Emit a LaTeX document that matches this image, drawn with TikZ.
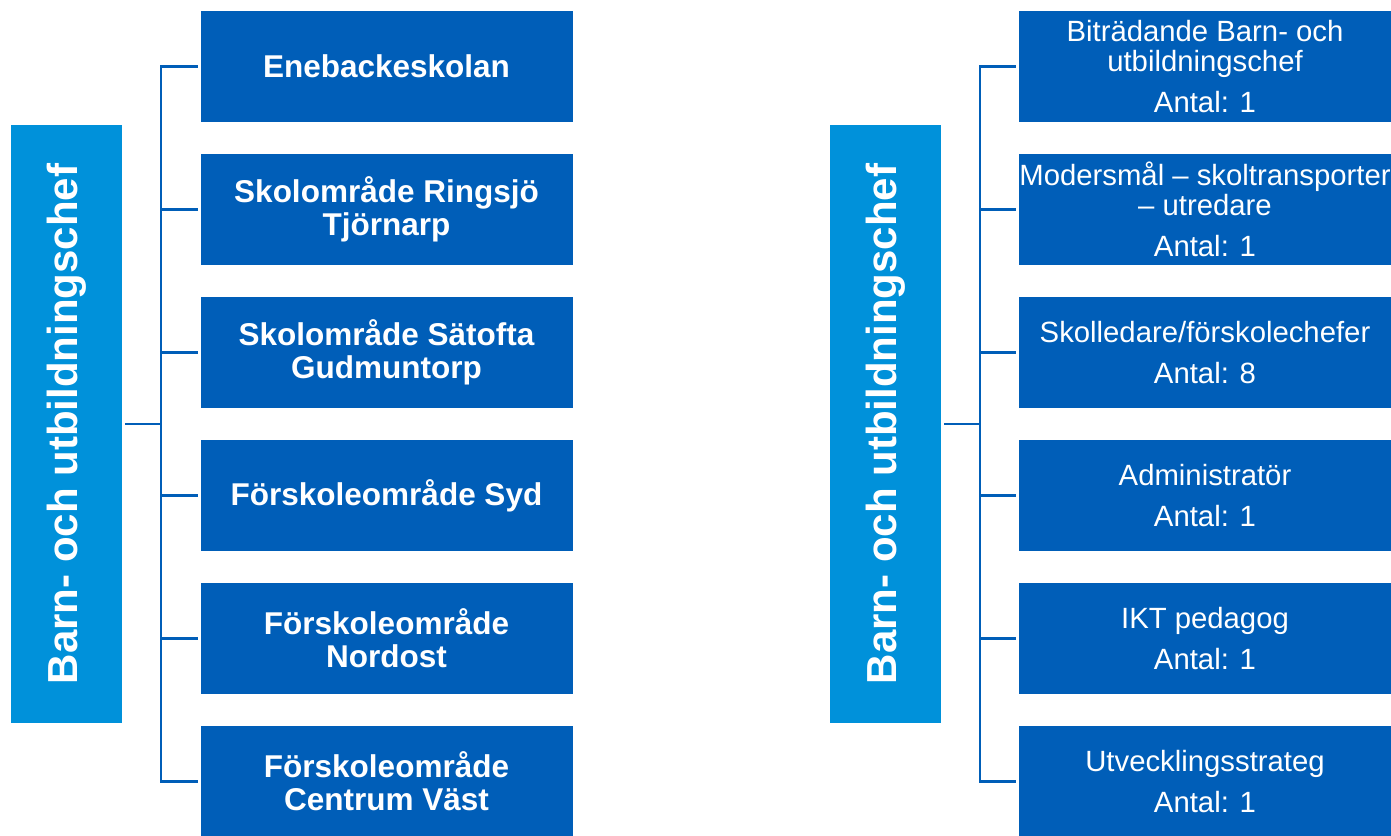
\documentclass[tikz,border=0pt]{standalone}
\usepackage{fontspec}
\setmainfont{Liberation Sans}
\usetikzlibrary{positioning}

\definecolor{unitblue}{RGB}{0,94,184}
\definecolor{chefblue}{RGB}{0,145,218}

\tikzset{
  chefbox/.style={rectangle, fill=chefblue, text=white, minimum width=111pt, minimum height=598pt, inner sep=0pt,
    font=\fontsize{42}{46}\selectfont\bfseries},
  unitbox/.style={rectangle, fill=unitblue, text=white, minimum width=372pt, minimum height=111pt, inner sep=0pt,
    align=center, font=\fontsize{31.5}{33}\selectfont\bfseries},
  rolebox/.style={rectangle, fill=unitblue, text=white, minimum width=372pt, minimum height=111pt, inner sep=0pt,
    align=center, font=\fontsize{29.3}{30}\selectfont},
  conn/.style={draw=unitblue, line width=2.5pt}
}

\begin{document}
\begin{tikzpicture}[x=1pt, y=-1pt]
\useasboundingbox (0,0) rectangle (1391,835);
% left chart
\node[chefbox] (chefL) at (66.5,424) {\rotatebox{90}{Barn- och utbildningschef}};
\node[unitbox] (u1) at (386.5,66.5) {Enebackeskolan};
\node[unitbox] (u2) at (386.5,209.5) {Skolområde Ringsjö\\Tjörnarp};
\node[unitbox] (u3) at (386.5,352.5) {Skolområde Sätofta\\Gudmuntorp};
\node[unitbox] (u4) at (386.5,495.5) {Förskoleområde Syd};
\node[unitbox] (u5) at (386.5,638.5) {Förskoleområde\\Nordost};
\node[unitbox] (u6) at (386.5,781.5) {Förskoleområde\\Centrum Väst};
\coordinate (busL) at (161,424);
\draw[conn, shorten <=3pt] (chefL.east) -- (busL);
\draw[conn, line cap=rect] (busL |- u1.west) -- (busL |- u6.west);
\foreach \u in {u1,u2,u3,u4,u5,u6}
  \draw[conn, shorten >=2.5pt] (busL |- \u.west) -- (\u.west);
% right chart
\node[chefbox] (chefR) at (885.5,424) {\rotatebox{90}{Barn- och utbildningschef}};
\node[rolebox] (r1) at (1205,66.5) {Biträdande Barn- och\\utbildningschef\\[11pt]Antal: 1};
\node[rolebox] (r2) at (1205,209.5) {Modersmål – skoltransporter\\– utredare\\[11pt]Antal: 1};
\node[rolebox] (r3) at (1205,352.5) {Skolledare/förskolechefer\\[11pt]Antal: 8};
\node[rolebox] (r4) at (1205,495.5) {Administratör\\[11pt]Antal: 1};
\node[rolebox] (r5) at (1205,638.5) {IKT pedagog\\[11pt]Antal: 1};
\node[rolebox] (r6) at (1205,781.5) {Utvecklingsstrateg\\[11pt]Antal: 1};
\coordinate (busR) at (980,424);
\draw[conn, shorten <=3pt] (chefR.east) -- (busR);
\draw[conn, line cap=rect] (busR |- r1.west) -- (busR |- r6.west);
\foreach \r in {r1,r2,r3,r4,r5,r6}
  \draw[conn, shorten >=2.5pt] (busR |- \r.west) -- (\r.west);
\end{tikzpicture}
\end{document}
